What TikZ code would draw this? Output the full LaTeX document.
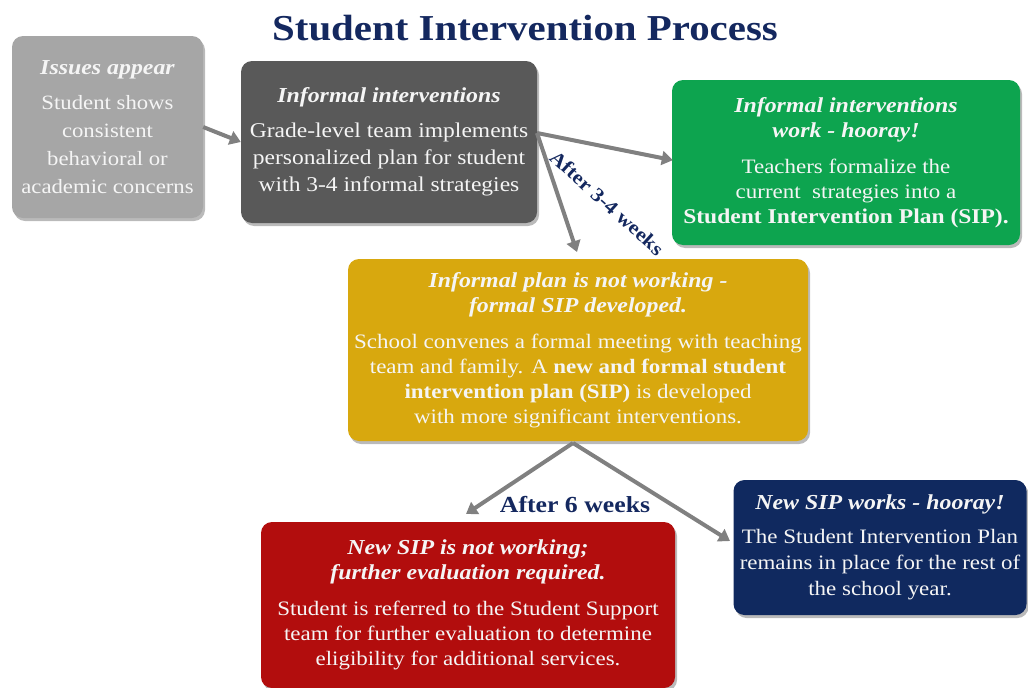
\documentclass[tikz,border=0pt]{standalone}
\usepackage{fontspec}
\setmainfont{Liberation Serif}[FakeStretch=1.12]
\usetikzlibrary{arrows.meta,shadows}
\definecolor{titleblue}{HTML}{14285F}
\definecolor{boxgrayA}{HTML}{A6A6A6}
\definecolor{boxgrayB}{HTML}{595959}
\definecolor{boxgreen}{HTML}{0DA44F}
\definecolor{boxyellow}{HTML}{D8A80E}
\definecolor{boxred}{HTML}{B20D0D}
\definecolor{boxnavy}{HTML}{10295F}
\definecolor{arrowgray}{HTML}{808080}
\definecolor{textwhite}{HTML}{F5F5F5}
\tikzset{
  card/.style={rectangle, rounded corners=11pt, draw=none, text=textwhite,
    align=center, inner sep=0pt,
    drop shadow={shadow xshift=2pt, shadow yshift=-3pt, opacity=0.45, fill=black!60},
    font=\fontsize{20.5}{25}\selectfont},
  flow/.style={draw=arrowgray, line width=4pt, -{Triangle[length=11pt,width=14pt]}},
  steplabel/.style={text=titleblue, font=\bfseries},
}
\newcommand{\headtxt}[1]{{\fontsize{21.3}{24}\selectfont\bfseries\itshape #1}}
\begin{document}
\begin{tikzpicture}[x=1pt,y=-1pt]
\useasboundingbox (0,0) rectangle (1028,688);
\node[font=\fontsize{36.5}{40}\selectfont\bfseries, text=titleblue] (title) at (525,28) {Student Intervention Process};

\node[card, fill=boxgrayA, minimum width=191pt, minimum height=182pt,
      font=\fontsize{20.3}{28}\selectfont] (issues) at (107.5,127)
  {\headtxt{Issues appear}\\[7pt] Student shows\\ consistent\\ behavioral or\\ academic concerns};

\node[card, fill=boxgrayB, minimum width=296pt, minimum height=162pt,
      font=\fontsize{21}{27}\selectfont] (informal) at (389,142)
  {\headtxt{Informal interventions}\\[8pt] Grade-level team implements\\ personalized plan for student\\ with 3-4 informal strategies};

\node[card, fill=boxgreen, minimum width=348pt, minimum height=165pt] (works) at (846,162.5)
  {\headtxt{Informal interventions}\\ \headtxt{work - hooray!}\\[11pt] Teachers formalize the\\ current\ \ strategies into a\\ {\fontsize{21}{25}\selectfont\textbf{Student Intervention Plan (SIP).}}};

\node[card, fill=boxyellow, minimum width=460pt, minimum height=182pt] (formal) at (578,350)
  {\headtxt{Informal plan is not working -}\\ \headtxt{formal SIP developed.}\\[11pt] School convenes a formal meeting with teaching\\ team and family. A \textbf{new and formal student}\\ \textbf{intervention plan (SIP)} is developed\\ with more significant interventions.};

\node[card, fill=boxred, minimum width=414pt, minimum height=166pt] (notworking) at (468,605)
  {\headtxt{New SIP is not working;}\\ \headtxt{further evaluation required.}\\[11pt] Student is referred to the Student Support\\ team for further evaluation to determine\\ eligibility for additional services.};

\node[card, fill=boxnavy, minimum width=293pt, minimum height=135pt,
      font=\fontsize{20.5}{26}\selectfont] (sipworks) at (880,547.5)
  {\headtxt{New SIP works - hooray!}\\[8pt] The Student Intervention Plan\\ remains in place for the rest of\\ the school year.};

\coordinate (splitA) at (537,133);
\coordinate (splitB) at (573,443);
\draw[flow] (issues.east) -- (informal.west);
\draw[flow, shorten >=-1pt] (splitA) -- (works.west |- 0,160);
\draw[flow] (splitA) -- (577,252);
\draw[flow] (splitB) -- (466,514);
\draw[flow] (splitB) -- (730,541);

\node[steplabel, rotate=-42, font=\fontsize{19.5}{20}\selectfont\bfseries] (lab1) at (607,203) {After 3-4 weeks};
\node[steplabel, font=\fontsize{23}{24}\selectfont\bfseries] (lab2) at (575,505) {After 6 weeks};
\end{tikzpicture}
\end{document}
